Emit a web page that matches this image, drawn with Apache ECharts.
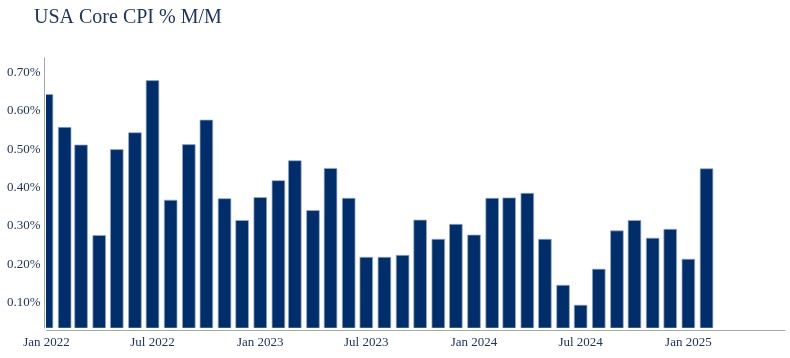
<!DOCTYPE html>
<html>
<head>
<meta charset="utf-8">
<script src="https://cdn.jsdelivr.net/npm/echarts@6/dist/echarts.min.js"></script>
<style>
html,body{margin:0;padding:0;background:#fff;}
#chart{width:790px;height:358px;}
</style>
</head>
<body>
<div id="chart"></div>
<script>
// Months (first day of each month) and Core CPI % M/M values
const months = [
  '2022-01','2022-02','2022-03','2022-04','2022-05','2022-06','2022-07','2022-08','2022-09','2022-10','2022-11','2022-12',
  '2023-01','2023-02','2023-03','2023-04','2023-05','2023-06','2023-07','2023-08','2023-09','2023-10','2023-11','2023-12',
  '2024-01','2024-02','2024-03','2024-04','2024-05','2024-06','2024-07','2024-08','2024-09','2024-10','2024-11','2024-12',
  '2025-01','2025-02'
];
const coreCpiMoM = [
  0.643,0.557,0.511,0.275,0.499,0.543,0.679,0.367,0.512,0.576,0.371,0.314,
  0.374,0.418,0.470,0.340,0.450,0.372,0.218,0.218,0.223,0.315,0.265,0.304,
  0.276,0.372,0.373,0.385,0.265,0.145,0.093,0.187,0.287,0.314,0.268,0.291,
  0.213,0.449
];
const xTickMonths = ['2022-01','2022-07','2023-01','2023-07','2024-01','2024-07','2025-01'];
const yTickValues = [0.1,0.2,0.3,0.4,0.5,0.6,0.7];
const monthNames = ['Jan','Feb','Mar','Apr','May','Jun','Jul','Aug','Sep','Oct','Nov','Dec'];

function ts(ym, day) {
  const p = ym.split('-');
  return Date.UTC(+p[0], +p[1] - 1, day || 1);
}
const seriesData = months.map((m, i) => [ts(m), coreCpiMoM[i]]);
const xTicks = xTickMonths.map(m => ts(m));

const Y_MIN = 0.0335, Y_MAX = 0.738;
const BAR_W = 12.7;
const navy = '#1c3562';
const font = '"Liberation Serif", "Times New Roman", serif';

const chart = echarts.init(document.getElementById('chart'), null, {renderer: 'canvas'});
chart.setOption({
  animation: false,
  backgroundColor: '#ffffff',
  title: {
    text: 'USA Core CPI % M/M',
    left: 29,
    top: 3,
    textStyle: {fontFamily: font, fontSize: 20, fontWeight: 'normal', color: navy}
  },
  grid: {left: 46.5, right: 5, top: 58, bottom: 30, containLabel: false},
  xAxis: {
    type: 'value',
    min: ts('2022-01'),
    max: ts('2025-06', 15),
    offset: 2,
    scale: true,
    splitLine: {show: false},
    axisTick: {show: false},
    axisLine: {show: true, onZero: false, lineStyle: {color: '#a3a8ad', width: 1}},
    axisLabel: {
      customValues: xTicks,
      margin: 6,
      hideOverlap: false,
      fontFamily: font,
      fontSize: 13,
      color: navy,
      formatter: function (v) {
        const d = new Date(v);
        return monthNames[d.getUTCMonth()] + ' ' + d.getUTCFullYear();
      }
    }
  },
  yAxis: {
    type: 'value',
    min: Y_MIN,
    max: Y_MAX,
    offset: 2,
    splitLine: {show: false},
    axisTick: {show: false},
    axisLine: {show: true, onZero: false, lineStyle: {color: '#a3a8ad', width: 1}},
    axisLabel: {
      customValues: yTickValues,
      margin: 4,
      fontFamily: font,
      fontSize: 13,
      color: navy,
      formatter: function (v) { return v.toFixed(2) + '%'; }
    }
  },
  series: [{
    type: 'custom',
    data: seriesData,
    encode: {x: 0, y: 1},
    clip: true,
    itemStyle: {color: '#002e6b', borderColor: 'rgba(150,170,205,0.9)', borderWidth: 0.8},
    renderItem: function (params, api) {
      const x = api.value(0), y = api.value(1);
      const top = api.coord([x, y]);
      const base = api.coord([x, Y_MIN]);
      return {
        type: 'rect',
        shape: {x: top[0] - BAR_W / 2, y: top[1], width: BAR_W, height: base[1] - top[1]},
        style: {fill: '#002e6b', stroke: 'rgba(150,170,205,0.9)', lineWidth: 0.8}
      };
    }
  }]
});
</script>
</body>
</html>
